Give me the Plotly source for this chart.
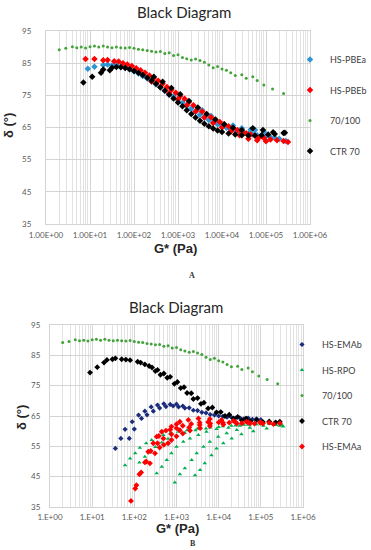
import plotly.graph_objects as go

# ---------------- Panel A data ----------------
g_7100 = [2.0, 2.82, 3.98, 5.01, 6.31, 7.94, 10, 12.6, 15.8, 20.0, 25.1, 31.6, 39.8, 50.1, 63.1, 79.4,
          100, 126, 158, 200, 251, 316, 398, 501, 631, 794,
          1000, 1260, 1580, 2000, 2510, 3160, 3980, 5010, 6310, 7940,
          1.0e4, 1.26e4, 1.58e4, 2.0e4, 2.82e4, 3.55e4, 5.01e4, 6.31e4, 8.91e4, 1.41e5, 2.51e5]
d_7100 = [89.2, 89.6, 90.1, 89.8, 90.0, 89.7, 90.1, 90.3, 90.0, 90.3, 90.0, 89.8, 90.0, 89.8, 89.7, 89.9,
          89.6, 89.3, 89.2, 88.9, 88.7, 88.5, 88.6, 88.0, 88.2, 87.4,
          87.6, 86.8, 86.4, 86.0, 86.3, 85.8, 85.3, 84.4, 83.6, 84.0,
          83.2, 82.8, 82.0, 81.2, 81.4, 80.3, 80.8, 79.6, 78.2, 77.0, 75.6]

g_pbea = [8.91, 12.6, 20.0, 25.1, 31.6, 39.8, 50.1, 63.1, 79.4, 100, 126, 158, 200, 251, 316, 398, 501,
          631, 794, 1000, 1260, 1580, 2000, 2510, 3160, 3980, 5010, 6310, 7940,
          1.0e4, 1.26e4, 1.58e4, 2.0e4, 2.51e4, 3.16e4, 3.98e4, 5.01e4, 6.31e4, 7.94e4,
          1.0e5, 1.26e5, 1.58e5, 2.0e5, 2.82e5,
          3550, 5620, 1.78e4, 2.82e4, 4.47e4, 5.62e4, 8.91e4]
d_pbea = [83.3, 83.9, 84.4, 84.6, 84.3, 84.4, 84.0, 83.6, 83.1, 82.5, 81.8, 81.0, 80.2, 79.3, 78.4, 77.4, 76.5,
          75.5, 74.6, 73.6, 72.7, 71.7, 70.8, 69.9, 69.0, 68.1, 67.3, 66.6, 66.0,
          65.4, 64.9, 64.4, 64.0, 63.6, 63.3, 63.0, 62.8, 62.6, 62.4,
          62.2, 62.0, 61.8, 61.5, 60.8,
          70.4, 68.6, 65.6, 64.8, 64.3, 64.2, 63.6]

g_pbeb = [7.94, 12.6, 20.0, 25.1, 35.5, 44.7, 56.2, 70.8, 89.1, 112, 141, 178, 224, 282, 355, 447, 562,
          708, 891, 1120, 1410, 1780, 2240, 2820, 3550, 4470, 5620, 7080, 8910,
          1.12e4, 1.41e4, 1.78e4, 2.24e4, 2.82e4, 3.55e4, 4.47e4, 5.62e4, 7.08e4, 8.91e4,
          1.26e5, 1.78e5, 2.51e5, 3.16e5,
          251, 398, 631, 1000, 1580, 2510, 3980, 6310, 1.0e4, 1.58e4, 2.51e4, 3.98e4, 6.31e4, 1.0e5]
d_pbeb = [86.3, 86.3, 85.9, 86.0, 85.6, 85.5, 85.0, 84.6, 84.1, 83.4, 82.8, 82.0, 81.2, 80.4, 79.5, 78.6, 77.6,
          76.7, 75.8, 74.8, 73.9, 72.9, 71.9, 71.0, 70.0, 69.1, 68.2, 67.4, 66.7,
          66.0, 65.4, 64.8, 64.2, 63.6, 63.2, 62.8, 62.4, 62.0, 61.7,
          61.3, 61.0, 60.8, 60.5,
          79.3, 77.6, 75.7, 73.8, 71.9, 70.0, 68.1, 66.4, 65.0, 63.7, 62.6, 61.5, 61.0, 60.7]

g_ctr_a = [7.08, 11.2, 17.8, 20.0, 28.2, 31.6, 39.8, 50.1, 63.1, 79.4, 100, 126, 158, 200, 251, 316, 398,
           501, 631, 794, 1000, 1260, 1580, 2000, 2510, 3160, 3980, 5010, 6310, 7940,
           1.0e4, 1.41e4, 2.0e4, 2.82e4, 3.98e4, 5.62e4, 7.94e4, 1.12e5, 1.58e5, 2.51e5,
           282, 447, 708, 1120, 1780, 2820, 4470, 7080, 1.12e4, 1.78e4, 2.82e4, 5.01e4, 8.51e4, 1.45e5, 2.69e5]
d_ctr_a = [79.0, 80.8, 82.0, 83.0, 82.8, 83.6, 83.8, 83.7, 83.5, 83.1, 82.6, 82.0, 81.3, 80.5, 79.6, 78.6, 77.5,
           76.4, 75.2, 74.0, 72.8, 71.6, 70.4, 69.2, 68.1, 67.1, 66.2, 65.4, 64.7, 64.1,
           63.6, 63.1, 62.8, 62.6, 62.5, 62.5, 62.6, 62.8, 63.0, 63.3,
           80.8, 79.2, 77.3, 75.3, 73.2, 71.2, 69.2, 67.5, 66.0, 64.9, 64.2, 64.8, 64.2, 63.5, 63.4]

# ---------------- Panel B data ----------------
g_emab = [35.5, 47.9, 60.3, 75.9, 89.1, 100, 126, 148, 178, 200, 251, 282, 355, 398, 501, 562, 708, 832,
          1000, 1120, 1410, 1580, 2000, 2510, 3160, 3980, 5010, 6310, 7940,
          1.0e4, 1.26e4, 1.58e4, 2.0e4, 2.51e4, 3.16e4, 3.98e4, 5.01e4, 6.31e4, 7.94e4, 1.0e5]
d_emab = [54.3, 57.6, 60.6, 57.6, 63.1, 60.7, 65.3, 64.2, 66.6, 65.4, 68.0, 66.6, 68.6, 67.6, 69.0, 68.1, 68.8, 68.3,
          68.9, 68.0, 68.3, 67.6, 67.7, 66.9, 66.8, 66.2, 66.0, 65.5, 65.3,
          65.0, 64.9, 64.6, 64.6, 64.3, 64.4, 64.1, 64.3, 63.9, 64.1, 63.8]

g_rpo = [60.3, 79.4, 105, 135, 191, 257, 339, 490, 708, 1100, 1780, 3160, 6310, 1.26e4, 2.51e4, 5.01e4, 1.0e5, 2.0e5, 3.16e5,
         132, 178, 234, 316, 447, 631, 1000, 1580, 2820, 5010, 1.0e4, 2.0e4, 3.98e4, 7.94e4, 1.58e5,
         339, 447, 589, 759, 1000, 1450, 2090, 3310, 5130, 8910, 1.70e4, 3.16e4, 7.24e4,
         912, 1200, 1580, 2290, 3020, 4370, 6170, 9770, 1.55e4, 2.69e4, 5.50e4, 1.15e5, 2.34e5, 3.39e5,
         2750, 3630, 4680, 6760, 8910, 1.29e4, 2.04e4, 3.47e4, 6.61e4, 1.38e5, 2.82e5]
d_rpo = [48.8, 51.0, 52.7, 54.5, 56.0, 57.1, 58.2, 58.7, 59.3, 59.8, 60.3, 60.8, 61.2, 61.6, 61.9, 62.1, 62.3, 62.4, 62.0,
         49.7, 51.6, 53.0, 54.8, 56.3, 57.5, 58.6, 59.5, 60.3, 60.9, 61.4, 61.8, 62.1, 62.3, 62.4,
         46.1, 48.3, 50.5, 52.7, 54.9, 56.5, 57.6, 58.7, 59.8, 60.7, 61.1, 61.8, 62.3,
         43.1, 45.8, 47.8, 50.5, 52.7, 54.9, 56.5, 58.2, 59.3, 60.4, 61.1, 61.8, 62.0, 61.5,
         45.5, 47.2, 49.4, 52.1, 54.3, 56.0, 57.6, 59.0, 60.0, 60.9, 61.8]

g_ctr_b = [8.91, 13.2, 19.1, 22.4, 30.2, 35.5, 50.1, 63.1, 79.4, 120, 141, 178, 224, 263, 316, 355, 417, 501,
           603, 708, 891, 1050, 1260, 1510, 1780, 2240, 2510, 3160, 3800, 4470, 5620, 7080, 8910,
           1.12e4, 1.41e4, 1.78e4, 2.24e4, 2.82e4, 3.55e4, 4.47e4, 5.62e4, 7.94e4, 1.12e5, 1.58e5, 2.24e5, 2.82e5]
d_ctr_b = [79.3, 81.1, 82.6, 83.5, 83.7, 84.0, 83.7, 83.6, 83.4, 82.9, 82.6, 82.0, 81.5, 81.0, 79.8, 80.2, 78.6, 79.0,
           77.6, 77.9, 75.6, 76.2, 74.2, 74.5, 72.6, 72.5, 70.6, 70.9, 69.0, 69.4, 67.5, 67.8, 66.2,
           66.3, 65.0, 65.4, 64.2, 64.7, 63.6, 64.2, 63.3, 63.7, 63.0, 63.2, 62.9, 63.1]

g_emaa = [83.2, 105, 112, 132, 145, 178, 191, 214, 245, 282, 339, 380, 447, 562, 759, 1000, 1200, 1910, 3310,
          6170, 1.17e4, 2.24e4, 4.57e4, 9.55e4, 1.58e5, 2.82e5,
          234, 309, 398, 501, 631, 759, 1000, 1410, 2090, 3630, 6170, 1.29e4, 2.69e4, 5.62e4, 1.12e5,
          355, 490, 759, 1200, 2000, 3550, 6310, 1.26e4, 2.51e4, 5.01e4, 1.0e5,
          708, 1000, 1410, 2240, 3550, 5620, 1.0e4, 1.78e4, 3.55e4, 7.08e4, 2.0e5]
d_emaa = [37.0, 41.1, 42.2, 45.8, 46.4, 49.7, 50.0, 53.2, 53.5, 56.0, 58.2, 58.4, 59.8, 60.2, 61.5, 62.3, 63.1, 63.7, 64.2,
          64.0, 63.7, 63.4, 63.1, 62.9, 62.8, 62.6,
          49.4, 52.7, 54.6, 55.5, 56.0, 57.1, 58.3, 59.2, 60.2, 61.0, 61.7, 62.2, 62.5, 62.6, 62.5,
          56.0, 57.6, 59.0, 60.3, 61.2, 62.0, 62.5, 62.8, 63.0, 62.9, 62.8,
          60.5, 61.0, 61.8, 62.4, 62.8, 63.0, 62.9, 62.8, 62.6, 62.5, 62.3]

# ---------------- axis labels ----------------
x_tickvals = [1, 10, 100, 1000, 1e4, 1e5, 1e6]
x_ticktext_a = ["1.00E+00", "1.00E+01", "1.00E+02", "1.00E+03", "1.00E+04", "1.00E+05", "1.00E+06"]
x_ticktext_b = ["1.E+00", "1.E+01", "1.E+02", "1.E+03", "1.E+04", "1.E+05", "1.E+06"]
y_tickvals = [35, 45, 55, 65, 75, 85, 95]

C_BLUE = "#2C95D4"
C_RED = "#FF0000"
C_G7100 = "#43A33A"
C_RPO = "#00B050"
C_NAVY = "#1C2C7C"
C_BLACK = "#000000"

W, H = 371, 550


def px(v):
    return v / W


def py(v):
    return 1 - v / H


fig = go.Figure()


def add(x, y, name, color, symbol, size, xa, ya, legend):
    fig.add_trace(go.Scatter(
        x=x, y=y, mode="markers", name=name, xaxis=xa, yaxis=ya, legend=legend,
        legendgroup=legend + name,
        marker=dict(color=color, symbol=symbol, size=size, line=dict(width=0)),
    ))


add(g_pbea, d_pbea, "HS-PBEa", C_BLUE, "diamond", 5, "x", "y", "legend")
add(g_pbeb, d_pbeb, "HS-PBEb", C_RED, "diamond", 5, "x", "y", "legend")
add(g_7100, d_7100, "70/100", C_G7100, "circle", 3, "x", "y", "legend")
add(g_ctr_a, d_ctr_a, "CTR 70", C_BLACK, "diamond", 5, "x", "y", "legend")

add(g_emab, d_emab, "HS-EMAb", C_NAVY, "diamond", 4, "x2", "y2", "legend2")
add(g_rpo, d_rpo, "HS-RPO", C_RPO, "triangle-up", 4, "x2", "y2", "legend2")
add(g_7100, d_7100, "70/100", C_G7100, "circle", 3, "x2", "y2", "legend2")
add(g_ctr_b, d_ctr_b, "CTR 70", C_BLACK, "diamond", 4.5, "x2", "y2", "legend2")
add(g_emaa, d_emaa, "HS-EMAa", C_RED, "diamond", 4.5, "x2", "y2", "legend2")

GRID = "#D4D4D4"
MINOR = "#E2E2E2"
TICKF = dict(family="Lato, Arial", size=8, color="#595959")
LEGF = dict(family="Lato, Arial", size=9, color="#404040")

xcommon = dict(type="log", range=[0, 6], tickmode="array", tickvals=x_tickvals,
               showgrid=True, gridcolor=GRID, gridwidth=1, zeroline=False,
               showline=True, mirror=True, linecolor=GRID, linewidth=1, ticks="",
               tickfont=TICKF,
               minor=dict(dtick="D1", showgrid=True, gridcolor=MINOR, gridwidth=1, ticks=""))
ycommon = dict(range=[35, 95], tickmode="array", tickvals=y_tickvals,
               showgrid=True, gridcolor=GRID, gridwidth=1, zeroline=False,
               showline=True, mirror=True, linecolor=GRID, linewidth=1, ticks="",
               tickfont=TICKF)

fig.update_layout(
    width=W, height=H, margin=dict(l=0, r=0, t=0, b=0, autoexpand=False),
    paper_bgcolor="white", plot_bgcolor="white",
    xaxis=dict(xcommon, domain=[px(46), px(310)], anchor="y", ticktext=x_ticktext_a, ticklabelstandoff=3),
    yaxis=dict(ycommon, domain=[py(224), py(31)], anchor="x", ticklabelstandoff=12),
    xaxis2=dict(xcommon, domain=[px(50), px(303)], anchor="y2", ticktext=x_ticktext_b, ticklabelstandoff=2),
    yaxis2=dict(ycommon, domain=[py(507), py(325)], anchor="x2", ticklabelstandoff=7),
    legend=dict(x=px(290), y=py(45), xanchor="left", yanchor="top", tracegroupgap=11.5,
                font=LEGF, bgcolor="rgba(0,0,0,0)", itemsizing="trace"),
    legend2=dict(x=px(282), y=py(330), xanchor="left", yanchor="top", tracegroupgap=6.5,
                 font=LEGF, bgcolor="rgba(0,0,0,0)", itemsizing="trace"),
    showlegend=True,
)

ann = []
ann.append(dict(text="Black Diagram", x=px(184), y=py(12), font=dict(family="Lato, Arial", size=15, color="#262626")))
ann.append(dict(text="Black Diagram", x=px(176), y=py(307), font=dict(family="Lato, Arial", size=15, color="#262626")))
ann.append(dict(text="<b>G* (Pa)</b>", x=px(175), y=py(248), font=dict(family="Arial", size=13, color="#262626")))
ann.append(dict(text="<b>G* (Pa)</b>", x=px(177), y=py(528), font=dict(family="Arial", size=13, color="#262626")))
ann.append(dict(text="<b>δ (°)</b>", x=px(8), y=py(126), textangle=-90, font=dict(family="Arial", size=13, color="#262626")))
ann.append(dict(text="<b>δ (°)</b>", x=px(21), y=py(418), textangle=-90, font=dict(family="Arial", size=13, color="#262626")))
ann.append(dict(text="<b>A</b>", x=px(192), y=py(275), font=dict(family="Liberation Serif", size=8, color="#333333")))
ann.append(dict(text="<b>B</b>", x=px(193), y=py(543), font=dict(family="Liberation Serif", size=8, color="#333333")))
for a in ann:
    a.update(xref="paper", yref="paper", xanchor="center", yanchor="middle", showarrow=False)
fig.update_layout(annotations=ann)

fig.write_html("out.html", config={"displayModeBar": False},
               post_script="document.body.style.margin='0';document.body.style.overflow='hidden';")
